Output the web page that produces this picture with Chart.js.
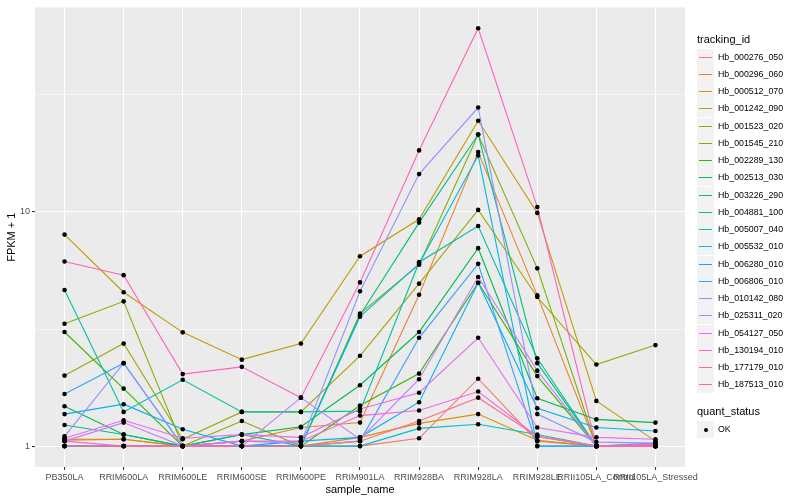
<!DOCTYPE html>
<html>
<head>
<meta charset="utf-8">
<script src="https://cdn.jsdelivr.net/npm/chart.js@4/dist/chart.umd.min.js"></script>
<style>
html,body{margin:0;padding:0;background:#fff;}
#wrap{position:relative;width:800px;height:500px;font-family:"Liberation Sans",Arial,Helvetica,sans-serif;}
#c{position:absolute;left:0;top:0;}
.lt{position:absolute;font-size:11px;color:#000;white-space:nowrap;line-height:13px;}
.key{position:absolute;width:17px;height:17px;background:#F2F2F2;}
.key i{position:absolute;left:2px;width:13px;top:7.5px;height:1.6px;}
.lab{position:absolute;font-size:8.8px;color:#000;white-space:nowrap;line-height:11px;}
.dot{position:absolute;width:4px;height:4px;border-radius:2px;background:#000;left:6.5px;top:6.5px;}
</style>
</head>
<body>
<div id="wrap">
<canvas id="c" width="800" height="500"></canvas>
<div id="legend"></div>
</div>
<script>
// ---- data ----
const categories = ["PB350LA","RRIM600LA","RRIM600LE","RRIM600SE","RRIM600PE","RRIM901LA","RRIM928BA","RRIM928LA","RRIM928LE","RRII105LA_Control","RRII105LA_Stressed"];
const trackingIds = ["Hb_000276_050","Hb_000296_060","Hb_000512_070","Hb_001242_090","Hb_001523_020","Hb_001545_210","Hb_002289_130","Hb_002513_030","Hb_003226_290","Hb_004881_100","Hb_005007_040","Hb_005532_010","Hb_006280_010","Hb_006806_010","Hb_010142_080","Hb_025311_020","Hb_054127_050","Hb_130194_010","Hb_177179_010","Hb_187513_010"];
const yTickValues = [1, 10];
const yMinorValues = [3.1623, 31.623];
const quantStatus = ["OK"];

const hb_000276_050 = [1.0, 1.0, 1.0, 1.0, 1.0, 1.0, 1.08, 1.94, 1.05, 1.0, 1.0];
const hb_000296_060 = [1.06, 1.07, 1.0, 1.05, 1.2, 1.26, 4.43, 18.0, 4.4, 1.0, 1.0];
const hb_000512_070 = [1.07, 1.07, 1.0, 1.0, 1.0, 1.09, 1.25, 1.37, 1.06, 1.0, 1.0];
const hb_001242_090 = [8.0, 4.54, 3.06, 2.34, 2.74, 6.47, 9.3, 24.5, 9.9, 1.56, 1.05];
const hb_001523_020 = [2.0, 2.74, 1.07, 1.40, 1.40, 2.43, 4.94, 10.2, 4.33, 2.23, 2.7];
const hb_001545_210 = [3.33, 4.15, 1.0, 1.28, 1.0, 3.68, 5.95, 21.4, 5.74, 1.0, 1.0];
const hb_002289_130 = [3.07, 1.76, 1.0, 1.0, 1.0, 1.49, 2.04, 4.98, 1.99, 1.0, 1.0];
const hb_002513_030 = [1.48, 1.12, 1.0, 1.12, 1.21, 1.82, 3.07, 7.0, 1.6, 1.30, 1.26];
const hb_003226_290 = [1.23, 1.12, 1.0, 1.12, 1.0, 3.62, 9.0, 21.4, 2.26, 1.0, 1.0];
const hb_004881_100 = [4.64, 1.40, 1.92, 1.40, 1.40, 1.41, 6.1, 8.7, 2.37, 1.0, 1.0];
const hb_005007_040 = [1.0, 1.0, 1.0, 1.0, 1.0, 1.0, 1.19, 1.24, 1.12, 1.0, 1.03];
const hb_005532_010 = [1.0, 1.0, 1.0, 1.0, 1.0, 3.57, 6.0, 17.4, 1.0, 1.0, 1.0];
const hb_006280_010 = [1.37, 1.51, 1.18, 1.0, 1.05, 1.09, 1.54, 4.98, 1.45, 1.2, 1.16];
const hb_006806_010 = [1.67, 2.26, 1.0, 1.0, 1.0, 1.05, 2.9, 6.0, 1.0, 1.0, 1.0];
const hb_010142_080 = [1.10, 2.26, 1.0, 1.05, 1.03, 4.58, 14.5, 27.9, 1.37, 1.04, 1.03];
const hb_025311_020 = [1.05, 1.26, 1.0, 1.0, 1.61, 1.07, 1.93, 5.27, 2.10, 1.0, 1.0];
const hb_054127_050 = [1.08, 1.29, 1.08, 1.12, 1.09, 1.44, 1.69, 2.9, 1.2, 1.09, 1.07];
const hb_130194_010 = [1.05, 1.0, 1.0, 1.05, 1.05, 1.35, 1.42, 1.71, 1.1, 1.0, 1.02];
const hb_177179_010 = [6.14, 5.37, 2.03, 2.18, 1.61, 5.0, 18.3, 60.8, 10.5, 1.0, 1.0];
const hb_187513_010 = [1.0, 1.0, 1.0, 1.0, 1.0, 1.05, 1.28, 1.61, 1.1, 1.0, 1.0];

const seriesValues = [hb_000276_050, hb_000296_060, hb_000512_070, hb_001242_090, hb_001523_020,
  hb_001545_210, hb_002289_130, hb_002513_030, hb_003226_290, hb_004881_100, hb_005007_040,
  hb_005532_010, hb_006280_010, hb_006806_010, hb_010142_080, hb_025311_020, hb_054127_050,
  hb_130194_010, hb_177179_010, hb_187513_010];

// ---- style ----
const palette = ["#F8766D","#EA8331","#D89000","#C09B00","#A3A500","#7CAE00","#39B600","#00BB4E","#00BF7D","#00C1A3","#00BFC4","#00BAE0","#00B0F6","#35A2FF","#9590FF","#C77CFF","#E76BF3","#FA62DB","#FF62BC","#FF6C91"];
const FONT = '"Liberation Sans", Arial, Helvetica, sans-serif';

// y range: data range on log scale expanded by 5%
let lo = Infinity, hi = -Infinity;
seriesValues.forEach(s => s.forEach(v => { const l = Math.log10(v); if (l < lo) lo = l; if (l > hi) hi = l; }));
const pad = (hi - lo) * 0.05;
const yMin = Math.pow(10, lo - pad), yMax = Math.pow(10, hi + pad);

const lineSets = seriesValues.map((vals, i) => ({
  label: trackingIds[i], data: vals, borderColor: palette[i], backgroundColor: palette[i],
  borderWidth: 1.1, pointRadius: 0, pointHoverRadius: 0, tension: 0, order: 20 - i
}));
const pointSets = seriesValues.map((vals, i) => ({
  label: trackingIds[i] + " " + quantStatus[0], data: vals, showLine: false,
  pointRadius: 2.3, pointHoverRadius: 2.3, pointStyle: 'circle', borderWidth: 0,
  backgroundColor: '#000', borderColor: '#000', order: -1
}));

const panelBg = {
  id: 'panelBg',
  beforeDraw(chart) {
    const a = chart.chartArea, ctx = chart.ctx;
    ctx.save(); ctx.fillStyle = '#EBEBEB';
    ctx.fillRect(a.left, a.top, a.right - a.left, a.bottom - a.top);
    ctx.restore();
  }
};

const isMajor = v => yTickValues.some(t => Math.abs(t - v) < 1e-6);

new Chart(document.getElementById('c'), {
  type: 'line',
  data: { labels: categories, datasets: lineSets.concat(pointSets) },
  plugins: [panelBg],
  options: {
    responsive: false, animation: false, devicePixelRatio: 1,
    layout: { padding: { left: 0, right: 115, top: 5, bottom: 0 } },
    plugins: { legend: { display: false }, tooltip: { enabled: false } },
    scales: {
      x: {
        type: 'category', offset: true,
        grid: { color: '#FFFFFF', lineWidth: 1.07, offset: false, drawTicks: true, tickLength: 3, tickColor: '#333333' },
        border: { display: false },
        ticks: { color: '#4D4D4D', font: { size: 9, family: FONT }, autoSkip: false, maxRotation: 0, minRotation: 0, padding: 2 },
        title: { display: true, text: 'sample_name', color: '#000', font: { size: 11, family: FONT }, padding: { top: 0, bottom: 3 } },
        afterFit(s) { s.height = 33; }
      },
      y: {
        type: 'logarithmic', min: yMin, max: yMax,
        afterBuildTicks(s) {
          s.ticks = yTickValues.concat(yMinorValues).filter(v => v >= yMin && v <= yMax).sort((a, b) => a - b).map(v => ({ value: v }));
        },
        afterFit(s) { s.width = 35; },
        grid: {
          color: '#FFFFFF',
          lineWidth: c => (c.tick && isMajor(c.tick.value)) ? 1.07 : 0.53,
          drawTicks: true, tickLength: 3,
          tickColor: c => (c.tick && isMajor(c.tick.value)) ? '#333333' : 'rgba(0,0,0,0)'
        },
        border: { display: false },
        ticks: {
          color: '#4D4D4D', font: { size: 9, family: FONT }, padding: 2, autoSkip: false,
          callback: v => isMajor(v) ? String(Math.round(v)) : ''
        },
        title: { display: true, text: 'FPKM + 1', color: '#000', font: { size: 11, family: FONT }, padding: { top: 5, bottom: 0 } }
      }
    }
  }
});

// ---- legend (HTML) ----
const leg = document.getElementById('legend');
function add(html) { leg.insertAdjacentHTML('beforeend', html); }
add('<div class="lt" style="left:697px;top:33px;">tracking_id</div>');
trackingIds.forEach((id, i) => {
  const top = Math.round(48.7 + i * 17.25);
  add('<div class="key" style="left:697px;top:' + top + 'px;"><i style="background:' + palette[i] + '"></i></div>');
  add('<div class="lab" style="left:718px;top:' + (top + 3) + 'px;">' + id + '</div>');
});
add('<div class="lt" style="left:697px;top:405px;">quant_status</div>');
add('<div class="key" style="left:697px;top:421px;"><span class="dot"></span></div>');
add('<div class="lab" style="left:718px;top:424px;">' + quantStatus[0] + '</div>');
</script>
</body>
</html>
